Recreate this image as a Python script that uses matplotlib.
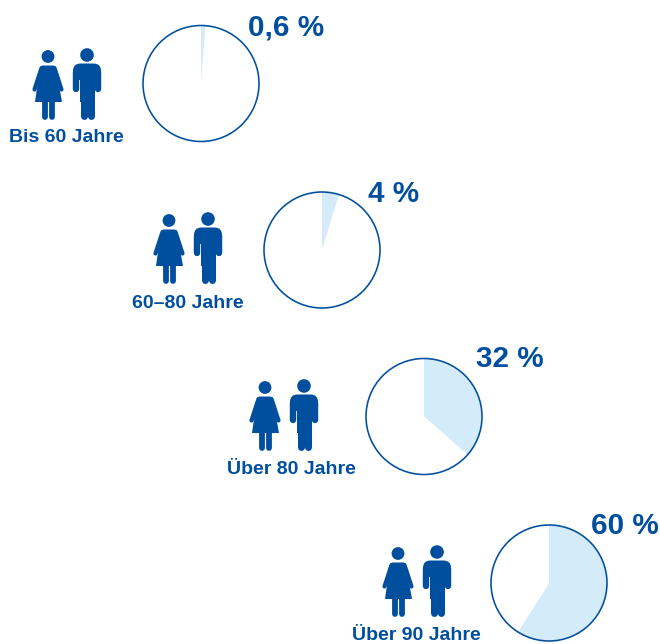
import matplotlib
matplotlib.use('Agg')
import matplotlib.pyplot as plt
from matplotlib.patches import Circle, Polygon, FancyBboxPatch

# data
age_groups = ['Bis 60 Jahre', '60–80 Jahre', 'Über 80 Jahre', 'Über 90 Jahre']
share_labels = ['0,6 %', '4 %', '32 %', '60 %']
# shares as the wedges are drawn in the picture
drawn_shares = [1.3, 4.8, 36.5, 59.0]

# layout, in picture pixels
pie_x = [201, 322, 424, 549]
pie_y = [83.5, 250, 416.5, 583]
icon_dx = [0, 121, 217, 350]
icon_dy = [0, 164, 331, 497]
label_x = [66.5, 187.5, 291, 416.5]
label_y = [137, 303, 469.5, 636]
share_x = [286.5, 393.5, 510, 625]
share_y = [27, 194, 359, 526]

BLUE = '#004f9f'
LIGHT = '#d4ebfa'
FONT = 'Liberation Sans'
RADIUS = 58

W, H = 660, 644


def Y(y):
    # picture pixels run downwards
    return H - y


def px(n):
    # line width in pixels to points
    return n * 72 / 100


def stroke(ax, x0, y0, x1, y1, width, color=BLUE):
    ax.plot([x0, x1], [Y(y0), Y(y1)], color=color, lw=px(width),
            solid_capstyle='round', zorder=3)


def draw_woman(ax, dx, dy):
    ax.add_patch(Circle((48 + dx, Y(56.5 + dy)), 6.4, color=BLUE, lw=0, zorder=3))
    body = [(42, 65.5), (54, 65.5), (57, 74), (62, 102), (35, 102), (39, 74)]
    ax.add_patch(Polygon([(x + dx, Y(y + dy)) for x, y in body], closed=True,
                         fc=BLUE, ec=BLUE, lw=0, zorder=3))
    stroke(ax, 41.5 + dx, 68 + dy, 34.5 + dx, 89.5 + dy, 4.2)
    stroke(ax, 54.5 + dx, 68 + dy, 61.5 + dx, 89.5 + dy, 4.2)
    stroke(ax, 45 + dx, 100 + dy, 45 + dx, 116.5 + dy, 5.8)
    stroke(ax, 52 + dx, 100 + dy, 52 + dx, 116.5 + dy, 5.8)


def draw_man(ax, dx, dy):
    ax.add_patch(Circle((87 + dx, Y(55 + dy)), 6.8, color=BLUE, lw=0, zorder=3))
    # shoulders
    ax.add_patch(FancyBboxPatch((73 + dx, Y(80 + dy)), 28, 16.5,
                                boxstyle='round,pad=0,rounding_size=7.5', fc=BLUE,
                                ec=BLUE, lw=0, zorder=3))
    stroke(ax, 76.2 + dx, 72 + dy, 76.2 + dx, 88.5 + dy, 6.4)
    stroke(ax, 97.8 + dx, 72 + dy, 97.8 + dx, 88.5 + dy, 6.4)
    # trunk
    trunk = [(80, 70), (94.5, 70), (94.5, 102), (80, 102)]
    ax.add_patch(Polygon([(x + dx, Y(y + dy)) for x, y in trunk], closed=True,
                         fc=BLUE, ec=BLUE, lw=0, zorder=3))
    stroke(ax, 83.5 + dx, 98 + dy, 83.5 + dx, 116 + dy, 7)
    stroke(ax, 91 + dx, 98 + dy, 91 + dx, 116 + dy, 7)


fig = plt.figure(figsize=(W / 100, H / 100), dpi=100)
ax = fig.add_axes([0, 0, 1, 1])

for i, share in enumerate(drawn_shares):
    # filled wedge runs clockwise from twelve o'clock
    ax.pie([share, 100 - share], colors=[LIGHT, 'white'], startangle=90,
           counterclock=False, radius=RADIUS, center=(pie_x[i], Y(pie_y[i])),
           wedgeprops={'linewidth': 0}, frame=False)
    ax.add_patch(Circle((pie_x[i], Y(pie_y[i])), RADIUS, fc='none', ec=BLUE,
                        lw=px(1.6), zorder=2))

    draw_woman(ax, icon_dx[i], icon_dy[i])
    draw_man(ax, icon_dx[i], icon_dy[i])

    ax.text(label_x[i], Y(label_y[i]), age_groups[i], color=BLUE, family=FONT,
            fontweight='bold', fontsize=14, ha='center', va='center')
    ax.text(share_x[i], Y(share_y[i]), share_labels[i], color=BLUE, family=FONT,
            fontweight='bold', fontsize=21.3, ha='center', va='center')

ax.set_xlim(0, W)
ax.set_ylim(0, H)
ax.set_aspect('equal')
ax.axis('off')

fig.savefig('out.png', dpi=100)
